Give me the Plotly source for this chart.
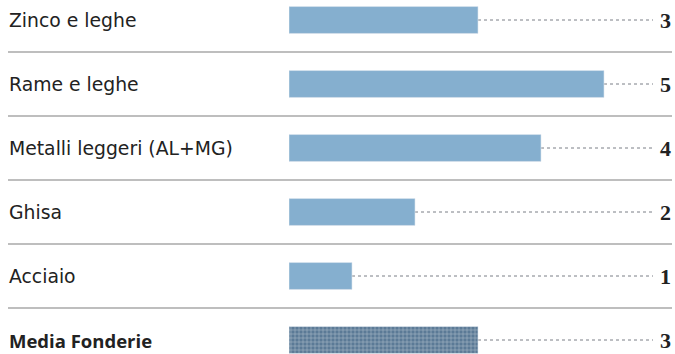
import plotly.graph_objects as go

categories = ["Zinco e leghe", "Rame e leghe", "Metalli leggeri (AL+MG)", "Ghisa", "Acciaio", "Media Fonderie"]
values = [3, 5, 4, 2, 1, 3]
value_labels = ["3", "5", "4", "2", "1", "3"]

W, H = 675, 354
x0_px = 289
unit_px = 63
row0_px = 20
row_px = 64
xmax = (W - x0_px) / unit_px
line_end = (653 - x0_px) / unit_px
label_x = (673 - x0_px) / unit_px

ypos = list(range(len(categories)))
n = len(categories)

bar_color = "#85AFCF"
avg_color = "#5B7A96"

colors = [bar_color] * (n - 1) + [avg_color]
patterns = [""] * (n - 1) + ["+"]

fig = go.Figure()
fig.add_trace(go.Bar(
    x=values, y=ypos, orientation="h",
    width=0.42,
    marker=dict(color=colors, line=dict(color="#DDE6EE", width=0.6),
                pattern=dict(shape=patterns, fgcolor="#A9C6DE", size=4, solidity=0.25)),
    hoverinfo="skip",
))

shapes = []
annotations = []
for i, (c, v, lab) in enumerate(zip(categories, values, value_labels)):
    shapes.append(dict(type="line", xref="x", yref="y", x0=v, x1=line_end, y0=i, y1=i,
                       line=dict(color="#7A7F86", width=1, dash="dot"), layer="below"))
    if i == n - 1:
        txt, fnt = f"<b>{c}</b>", dict(family="Open Sans", size=18.5, color="#222222")
    else:
        txt, fnt = c, dict(family="DejaVu Sans", size=18.8, color="#222222")
    annotations.append(dict(xref="paper", yref="y", x=7 / W, y=i, text=txt,
                            showarrow=False, xanchor="left", yanchor="middle", font=fnt))
    annotations.append(dict(xref="x", yref="y", x=label_x, y=i, text=f"<b>{lab}</b>", showarrow=False,
                            xanchor="right", yanchor="middle",
                            font=dict(family="Liberation Serif", size=22, color="#222222")))
for i in range(n - 1):
    shapes.append(dict(type="line", xref="paper", yref="y", x0=8 / W, x1=672 / W, y0=i + 0.5, y1=i + 0.5,
                       line=dict(color="#A8A8A8", width=1.5)))

fig.update_layout(
    width=W, height=H,
    margin=dict(l=0, r=0, t=0, b=0),
    paper_bgcolor="white", plot_bgcolor="white",
    showlegend=False,
    shapes=shapes, annotations=annotations,
    xaxis=dict(domain=[x0_px / W, 1], range=[0, xmax], visible=False, fixedrange=True),
    yaxis=dict(range=[(H - row0_px) / row_px, -row0_px / row_px], visible=False, fixedrange=True),
)

fig.write_html("out.html")
